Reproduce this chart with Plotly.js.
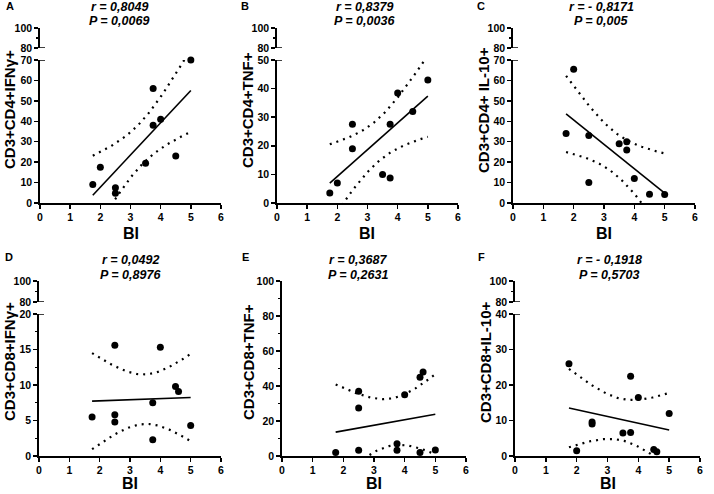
<!DOCTYPE html>
<html>
<head>
<meta charset="utf-8">
<script src="https://cdn.plot.ly/plotly-3.0.1.min.js"></script>
<style>
  html, body { margin: 0; padding: 0; background: #fff; }
  #chart { width: 714px; height: 494px; }
</style>
</head>
<body>
<div id="chart"></div>
<script>
// BI score of each patient (x) against % of positive cells (y), one pair per panel
var biA = [1.75, 2, 2.5, 2.5, 3.5, 3.75, 3.75, 4, 4.5, 5];
var cd4IfngA = [9, 17.5, 7.5, 4.8, 19.5, 38, 56, 41, 23, 70];

var biB = [1.75, 2, 2.5, 2.5, 3.5, 3.75, 3.75, 4, 4.5, 5];
var cd4TnfB = [3.5, 7, 27.5, 19, 10, 8.7, 27.5, 38.5, 32, 43];

var biC = [1.75, 2, 2.5, 2.5, 3.5, 3.75, 3.75, 4, 4.5, 5];
var cd4Il10C = [34, 65.5, 33, 10, 29, 30, 26, 12, 4.3, 4.1];

var biD = [1.75, 2.5, 2.5, 2.5, 3.75, 3.75, 4, 4.5, 4.6, 5];
var cd8IfngD = [5.5, 15.6, 5.8, 4.8, 7.5, 2.3, 15.3, 9.8, 9.1, 4.3];

var biE = [1.75, 2.5, 2.5, 2.5, 3.75, 3.75, 4, 4.5, 4.6, 4.5, 5];
var cd8TnfE = [2, 37, 27.5, 3.3, 7, 3.3, 35, 45, 48, 2, 3.5];

var biF = [1.75, 2, 2.5, 2.5, 3.5, 3.75, 3.75, 4, 4.5, 4.6, 5];
var cd8Il10F = [26, 1.5, 9, 9.6, 6.5, 6.6, 22.5, 16.5, 1.8, 1.2, 12];

var letters = ['A', 'B', 'C', 'D', 'E', 'F'];
var yTitles = ['CD3+CD4+IFNγ+', 'CD3+CD4+TNF+', 'CD3+CD4+ IL-10+',
               'CD3+CD8+IFNγ+', 'CD3+CD8+TNF+', 'CD3+CD8+IL-10+'];
var rTexts = ['r = 0,8049', 'r = 0,8379', 'r = - 0,8171',
              'r = 0,0492', 'r = 0,3687', 'r = - 0,1918'];
var pTexts = ['P = 0,0069', 'P = 0,0036', 'P = 0,005',
              'P = 0,8976', 'P = 0,2631', 'P = 0,5703'];
var xTicks = [0, 1, 2, 3, 4, 5, 6];

var W = 714, H = 494;
var FONT = 'Arial, "Liberation Sans", sans-serif';
function px(v) { return v / W; }
function py(v) { return 1 - v / H; }

// layout of each panel in pixels; brk = broken axis with an 80-100 stub on top
var panels = [
  {x: biA, y: cd4IfngA, left: 40,  right: 221, row: 0, top: 70,  dtick: 10, brk: true, tx: 119, ytx: 9,   lx: 4},
  {x: biB, y: cd4TnfB,  left: 277, right: 458, row: 0, top: 50,  dtick: 10, brk: true, tx: 364, ytx: 247, lx: 239},
  {x: biC, y: cd4Il10C, left: 513, right: 695, row: 0, top: 70,  dtick: 10, brk: true, tx: 601, ytx: 483, lx: 475},
  {x: biD, y: cd8IfngD, left: 39,  right: 221, row: 1, top: 20,  dtick: 5, minor: 2.5, brk: true, tx: 130, ytx: 9, lx: 3},
  {x: biE, y: cd8TnfE,  left: 282, right: 466, row: 1, top: 100, dtick: 20, minor: 10, brk: false, tx: 358, ytx: 248, lx: 240},
  {x: biF, y: cd8Il10F, left: 515, right: 700, row: 1, top: 40,  dtick: 10, brk: true, tx: 609, ytx: 485, lx: 476}
];
var rows = [
  {zero: 203, top: 60, u0: 48, u1: 28, letterY: 6, rY: 7, pY: 21, titleY: 110, biY: 233},
  {zero: 456, top: 314, u0: 302, u1: 281, letterY: 257, rY: 260, pY: 275, titleY: 362, biY: 483}
];

// least squares fit with 95% confidence band of the mean, as drawn by the original software
var T95 = {7: 2.365, 8: 2.306, 9: 2.262, 10: 2.228};
function fitBand(xs, ys) {
  var n = xs.length, mx = 0, my = 0;
  for (var i = 0; i < n; i++) { mx += xs[i]; my += ys[i]; }
  mx /= n; my /= n;
  var sxx = 0, sxy = 0;
  for (i = 0; i < n; i++) { sxx += (xs[i] - mx) * (xs[i] - mx); sxy += (xs[i] - mx) * (ys[i] - my); }
  var b = sxy / sxx, a = my - b * mx;
  var sse = 0;
  for (i = 0; i < n; i++) { var e = ys[i] - a - b * xs[i]; sse += e * e; }
  var s = Math.sqrt(sse / (n - 2)), t = T95[n - 2];
  var lo = Math.min.apply(null, xs), hi = Math.max.apply(null, xs);
  var out = {x: [], fit: [], up: [], dn: []};
  for (i = 0; i <= 60; i++) {
    var xv = lo + (hi - lo) * i / 60;
    var yv = a + b * xv;
    var h = t * s * Math.sqrt(1 / n + (xv - mx) * (xv - mx) / sxx);
    out.x.push(xv); out.fit.push(yv); out.up.push(yv + h); out.dn.push(yv - h);
  }
  return out;
}

var data = [];
var layout = {
  width: W, height: H,
  margin: {l: 0, r: 0, t: 0, b: 0},
  paper_bgcolor: '#fff', plot_bgcolor: 'rgba(0,0,0,0)',
  showlegend: false,
  font: {family: FONT, color: '#000'},
  annotations: [], shapes: []
};

var axisCommon = {
  showgrid: false, zeroline: false, showline: true,
  linecolor: '#000', linewidth: 1.8,
  ticks: 'outside', ticklen: 4, tickwidth: 1.5, tickcolor: '#000',
  tickfont: {family: FONT, size: 10.5, color: '#000', weight: 'bold'},
  fixedrange: true
};
function axis(extra) {
  var o = JSON.parse(JSON.stringify(axisCommon));
  for (var k in extra) o[k] = extra[k];
  return o;
}

var yCount = 0;
panels.forEach(function (p, i) {
  var row = rows[p.row];
  var xn = i === 0 ? '' : String(i + 1);
  yCount++;
  var ylo = yCount === 1 ? '' : String(yCount);
  var xRef = 'x' + xn, yRef = 'y' + ylo;

  var topPx = p.brk ? row.top : row.u1;
  layout['xaxis' + xn] = axis({
    domain: [px(p.left), px(p.right)], range: [0, 6],
    tickvals: xTicks, anchor: yRef
  });
  var yl = {
    domain: [py(row.zero), py(topPx)], range: [0, p.top],
    dtick: p.dtick, tick0: 0, anchor: xRef
  };
  if (p.minor) yl.minor = {ticks: 'outside', ticklen: 2.5, tickwidth: 1.2, tickcolor: '#000', dtick: p.minor, tick0: 0};
  layout['yaxis' + ylo] = axis(yl);

  if (p.brk) {
    yCount++;
    var yup = String(yCount);
    layout['yaxis' + yup] = axis({
      domain: [py(row.u0), py(row.u1)], range: [80, 100],
      tickvals: [80, 100], anchor: xRef,
      minor: {ticks: 'outside', ticklen: 2.5, tickwidth: 1.2, tickcolor: '#000', tickvals: [90]}
    });
    // break marks across the axis at both ends of the gap
    var half = 5 / (p.right - p.left);
    layout.shapes.push({type: 'line', xref: xRef + ' domain', yref: yRef,
      x0: -half, x1: half, y0: p.top, y1: p.top, line: {color: '#000', width: 1.5}});
    layout.shapes.push({type: 'line', xref: xRef + ' domain', yref: 'y' + yup,
      x0: -half, x1: half, y0: 80, y1: 80, line: {color: '#000', width: 1.5}});
  }

  var band = fitBand(p.x, p.y);
  data.push({x: band.x, y: band.up, xaxis: xRef, yaxis: yRef, type: 'scatter', mode: 'lines',
    line: {color: '#000', width: 2.2, dash: '2px,5px'}, hoverinfo: 'skip'});
  data.push({x: band.x, y: band.dn, xaxis: xRef, yaxis: yRef, type: 'scatter', mode: 'lines',
    line: {color: '#000', width: 2.2, dash: '2px,5px'}, hoverinfo: 'skip'});
  data.push({x: band.x, y: band.fit, xaxis: xRef, yaxis: yRef, type: 'scatter', mode: 'lines',
    line: {color: '#000', width: 1.6}, hoverinfo: 'skip'});
  data.push({x: p.x, y: p.y, xaxis: xRef, yaxis: yRef, type: 'scatter', mode: 'markers',
    marker: {color: '#000', size: 7}, cliponaxis: false});

  var ann = layout.annotations;
  ann.push({xref: 'paper', yref: 'paper', x: px(p.lx), y: py(row.letterY),
    text: letters[i], showarrow: false, xanchor: 'left', yanchor: 'middle',
    font: {size: 11, weight: 'bold'}});
  ann.push({xref: 'paper', yref: 'paper', x: px(p.tx), y: py(row.rY), text: rTexts[i],
    showarrow: false, xanchor: 'center', yanchor: 'middle',
    font: {size: 12.5, weight: 'bold', style: 'italic'}});
  ann.push({xref: 'paper', yref: 'paper', x: px(p.tx), y: py(row.pY), text: pTexts[i],
    showarrow: false, xanchor: 'center', yanchor: 'middle',
    font: {size: 12.5, weight: 'bold', style: 'italic'}});
  ann.push({xref: 'paper', yref: 'paper', x: px(p.ytx), y: py(row.titleY), text: yTitles[i],
    showarrow: false, xanchor: 'center', yanchor: 'middle', textangle: -90,
    font: {size: 15, weight: 'bold'}});
  ann.push({xref: 'paper', yref: 'paper', x: px((p.left + p.right) / 2), y: py(row.biY), text: 'BI',
    showarrow: false, xanchor: 'center', yanchor: 'middle',
    font: {size: 16, weight: 'bold'}});
});

Plotly.newPlot('chart', data, layout, {displayModeBar: false, staticPlot: true});
</script>
</body>
</html>
